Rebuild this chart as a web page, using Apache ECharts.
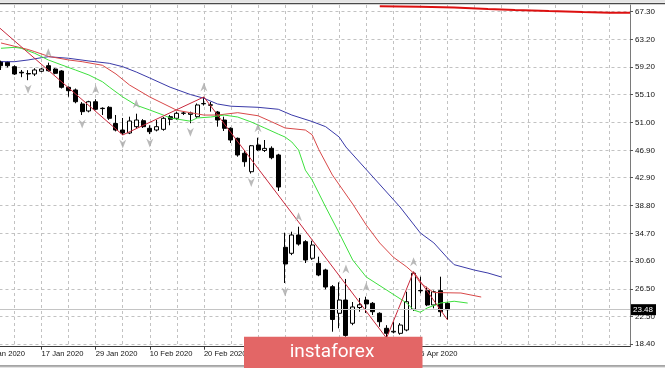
<!DOCTYPE html>
<html><head><meta charset="utf-8">
<script src="https://cdn.jsdelivr.net/npm/echarts@6/dist/echarts.min.js"></script>
<style>html,body{margin:0;padding:0;background:#fff}#c{width:665px;height:368px}</style>
</head><body><div id="c"></div>
<script>
// ---- categories: trading days starting two slots left of the first visible candle ----
const firstDay = '2020-01-07';
const slotCount = 96;
const candleSlot0 = 2;           // slot of the first visible candle (9 Jan 2020)
const monthNames = ['Jan','Feb','Mar','Apr','May','Jun','Jul','Aug','Sep','Oct','Nov','Dec'];
const categories = [];
(function(){
  let d = new Date(firstDay + 'T00:00:00Z');
  while (categories.length < slotCount) {
    const wd = d.getUTCDay();
    if (wd !== 0 && wd !== 6) categories.push(d.getUTCDate() + ' ' + monthNames[d.getUTCMonth()] + ' ' + d.getUTCFullYear());
    d = new Date(d.getTime() + 86400000);
  }
})();

// ---- candles (bar index 0 = 9 Jan 2020) ----
const opens  = [59.95,59.86,59.21,58.4,58.2,58.14,58.54,59.36,58.87,58.58,56.18,55.79,53.73,52.7,54.06,53.1,53.24,50.86,49.9,49.46,50.39,51.27,50.15,49.9,50.0,51.86,51.62,52.36,52.2,51.86,53.75,53.6,52.55,51.37,50.15,48.68,46.48,43.77,47.7,46.9,47.21,46.23,32.65,31.77,34.46,33.48,31.04,30.3,29.32,26.86,22.95,24.9,21.48,23.8,24.9,24.42,22.95,20.74,20.2,20.0,20.49,23.54,26.3,26.27,24.17,26.27,24.42];
const closes = [59.36,59.36,58.14,58.3,58.15,58.73,58.87,58.62,58.24,56.18,55.68,54.06,52.6,54.06,52.95,53.05,51.62,49.9,49.46,51.23,51.37,50.39,49.65,50.39,51.62,51.48,52.36,52.4,52.4,53.58,53.8,53.55,51.37,50.15,48.43,46.23,45.24,47.59,46.96,47.2,45.83,41.52,30.2,34.46,33.13,30.79,32.99,28.58,26.81,22.04,24.9,19.7,23.88,24.2,24.32,23.18,21.71,20.01,20.3,21.22,24.65,28.83,26.25,24.17,26.12,23.18,23.48];
const lows   = [58.73,59.1,58.0,57.67,57.23,57.84,58.4,58.5,58.1,56.0,54.8,53.83,52.11,52.5,52.8,52.11,51.4,49.7,49.17,49.3,50.2,50.2,49.3,49.7,49.8,50.6,51.4,52.1,50.9,51.7,53.5,52.6,50.39,49.76,47.99,45.98,44.5,43.5,46.8,46.67,45.6,40.93,27.4,31.5,32.9,30.34,30.8,28.4,26.48,20.24,20.74,19.5,21.2,23.18,23.0,22.7,20.97,19.3,20.0,19.8,20.3,23.3,25.89,24.0,23.68,22.45,22.0];
const highs  = [60.1,60.0,59.4,58.73,58.7,58.98,59.0,59.8,59.0,58.7,56.3,56.0,54.0,54.2,54.42,53.24,53.4,52.11,51.67,51.86,52.3,51.5,50.6,51.37,51.8,52.1,52.6,52.6,52.6,53.8,54.76,54.02,52.7,51.86,50.3,48.8,46.96,47.7,48.77,48.43,47.5,46.4,34.8,34.95,35.68,33.7,33.62,31.27,29.5,27.1,27.5,28.0,24.61,25.2,25.39,24.6,23.1,21.2,21.71,21.5,26.12,29.06,28.33,26.86,26.3,28.33,24.6];
const lastPrice = 23.48;

// ---- fractals (bar indices) ----
const upFractals   = [7,14,20,30,38,44,51,54,61];
const downFractals = [4,12,18,22,28,37,42];

// ---- Alligator lines (bar index, price) ----
const jawIdx = [0,2,4,6,7,10,13,16,18,20,22,25,28,30,32,34,38,41,43,46,48,50,51,55,59,62,64,66,67,70,72,74];
const jawVal = [59.95,59.95,60.2,60.54,60.68,60.45,60.05,59.71,59.21,58.43,57.55,56.2,55.12,54.57,53.73,53.4,53.24,52.95,52.1,51.15,50.39,48.87,47.4,42.99,38.58,34.76,33.3,31.1,30.1,29.3,28.87,28.28];
const teethIdx = [0,4,5,7,10,12,15,17,19,22,26,30,32,35,38,40,42,45,46,47,49,52,54,56,58,60,61,62,64,68,71];
const teethVal = [62.7,61.74,61.42,60.74,60.2,59.95,59.42,58.14,56.52,54.76,52.8,52.1,52.1,52.45,52.0,51.12,50.2,49.9,49.2,47.0,43.28,39.02,35.93,33.28,31.21,29.76,28.87,27.4,26.0,25.93,25.34];
const lipsIdx = [0,2,3,5,7,9,11,13,15,16,18,20,22,24,25,28,29,31,33,35,37,39,41,42,43,44,45,46,48,50,52,54,57,60,61,62,63,65,67,69];
const lipsVal = [61.92,62.06,61.92,61.18,60.2,59.46,58.73,57.99,57.0,56.23,54.76,53.55,52.84,52.1,51.67,51.2,51.67,51.81,52.1,51.81,51.08,50.2,49.3,48.87,48.14,46.96,44.0,42.55,38.58,34.76,30.79,28.29,26.38,24.45,23.43,23.1,23.72,24.46,24.72,24.45];

// ---- ZigZag vertices ----
const zigIdx = [-1,18,30,57,61,66];
const zigVal = [65.6,49.17,54.76,19.3,29.06,22.0];

// ---- upper long-period line ----
const longIdx = [56,62,67,72,76,81,86,90,93];
const longVal = [68.11,68.04,67.92,67.7,67.55,67.4,67.26,67.15,67.15];

// ---- y tick labels ----
const yTicks = [18.40,22.50,26.50,30.60,34.70,38.80,42.90,46.90,51.00,55.10,59.20,63.20,67.30];

// ---- build ----
const lastSlot = candleSlot0 + opens.length - 1;
const candleData = categories.map((c, k) => {
  const i = k - candleSlot0;
  if (i < 0 || i >= opens.length) return '-';
  return [opens[i], closes[i], lows[i], highs[i]];
});
const pairs = (idx, val) => idx.map((i, n) => [i + candleSlot0, val[n]]);
const upArrow = 'path://M5,0 L10,10 L5,7 L0,10 Z';
const downArrow = 'path://M0,0 L5,3 L10,0 L5,10 Z';
const labelSlot = (k) => k % 8 === 0 && k <= lastSlot;

const chart = echarts.init(document.getElementById('c'), null, {renderer: 'canvas'});
const lineCommon = {type: 'line', showSymbol: false, symbol: 'none', silent: true, z: 4, animation: false};
chart.setOption({
  animation: false,
  backgroundColor: '#ffffff',
  grid: {left: -12.53, right: 35, top: 5, bottom: 21.3, outerBoundsMode: 'none'},
  xAxis: {
    type: 'category', data: categories, boundaryGap: false,
    axisLine: {lineStyle: {color: '#3a3a3a', width: 1}},
    axisTick: {show: true, length: 3, interval: labelSlot, lineStyle: {color: '#3a3a3a'}},
    axisLabel: {interval: labelSlot, align: 'left', margin: 3, color: '#111', fontSize: 7.6, fontFamily: 'Liberation Sans'},
    splitLine: {show: true, interval: (k) => k % 4 === 0, lineStyle: {color: '#c2c2c2', type: [3,3], width: 1}}
  },
  yAxis: {
    type: 'value', position: 'right', min: 18.035, max: 68.285, scale: true,
    axisLine: {show: true, lineStyle: {color: '#7a7a7a'}},
    axisTick: {show: true, length: 3, customValues: yTicks, lineStyle: {color: '#555'}},
    axisLabel: {customValues: yTicks, formatter: (v) => v.toFixed(2), color: '#111', fontSize: 8, fontFamily: 'Liberation Sans', margin: 5},
    splitLine: {show: true, lineStyle: {color: '#c2c2c2', type: [3,3], width: 1}}
  },
  series: [
    {
      type: 'candlestick', data: candleData, barWidth: 4.5, z: 3,
      itemStyle: {color: '#ffffff', color0: '#000000', borderColor: '#000000', borderColor0: '#000000', borderColorDoji: '#000000', borderWidth: 1},
      markLine: {
        silent: true, symbol: 'none', animation: false,
        lineStyle: {color: '#c4c4c4', type: 'solid', width: 1},
        label: {position: 'end', formatter: lastPrice.toFixed(2), backgroundColor: '#000', color: '#fff', fontSize: 8, fontFamily: 'Liberation Sans', padding: [2,3,1,2], distance: 1},
        data: [{yAxis: lastPrice}]
      }
    },
    Object.assign({}, lineCommon, {data: pairs(jawIdx, jawVal), lineStyle: {color: '#3a3aa8', width: 1}}),
    Object.assign({}, lineCommon, {data: pairs(teethIdx, teethVal), lineStyle: {color: '#d84848', width: 1}}),
    Object.assign({}, lineCommon, {data: pairs(lipsIdx, lipsVal), lineStyle: {color: '#3ee03e', width: 1}}),
    Object.assign({}, lineCommon, {data: pairs(zigIdx, zigVal), lineStyle: {color: '#c8283c', width: 1}}),
    Object.assign({}, lineCommon, {data: pairs(longIdx, longVal), lineStyle: {color: '#dd1010', width: 2}}),
    {
      type: 'scatter', z: 5, silent: true, symbol: upArrow, symbolSize: [7, 9], symbolOffset: [0, -10],
      itemStyle: {color: '#a9a9a9'},
      data: upFractals.map(i => [i + candleSlot0, highs[i]])
    },
    {
      type: 'scatter', z: 5, silent: true, symbol: downArrow, symbolSize: [7, 9], symbolOffset: [0, 9],
      itemStyle: {color: '#a9a9a9'},
      data: downFractals.map(i => [i + candleSlot0, lows[i]])
    }
  ],
  graphic: [
    {type: 'rect', shape: {x: 0, y: 0, width: 665, height: 2.8}, style: {fill: '#e4e4e4'}, z: 50, silent: true},
    {type: 'line', shape: {x1: 0, y1: 3.6, x2: 665, y2: 3.6}, style: {stroke: '#4a4a4a', lineWidth: 1.4}, z: 50, silent: true},
    {type: 'line', shape: {x1: 0, y1: 366, x2: 665, y2: 366}, style: {stroke: '#4a4a4a', lineWidth: 1.2}, z: 50, silent: true},
    {type: 'rect', shape: {x: 0, y: 366.8, width: 665, height: 2}, style: {fill: '#e4e4e4'}, z: 50, silent: true},
    {type: 'rect', shape: {x: 244, y: 336.7, width: 178.5, height: 32}, style: {fill: '#e36666'}, z: 60, silent: true},
    {type: 'text', x: 332, y: 352, style: {text: 'instaforex', fill: '#ffffff', font: '19px Roboto', textAlign: 'center', textVerticalAlign: 'middle'}, z: 61, silent: true}
  ]
});
</script>
</body></html>
